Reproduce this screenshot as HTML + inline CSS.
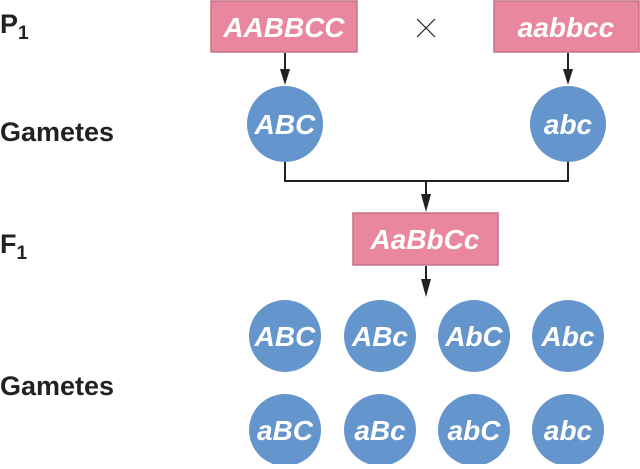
<!DOCTYPE html>
<html><head><style>
body{margin:0;width:640px;height:464px;background:#fff;overflow:hidden}
svg text{font-family:"Liberation Sans",sans-serif}
</style></head><body>
<svg width="640" height="464" viewBox="0 0 640 464">
<g font-size="27" fill="#222" font-weight="bold">
<text x="0" y="33">P<tspan font-size="19" dy="6">1</tspan></text>
<text x="0" y="141">Gametes</text>
<text x="0" y="253">F<tspan font-size="19" dy="6">1</tspan></text>
<text x="0" y="395">Gametes</text>
</g>
<g fill="#e8879e" stroke="#c07488" stroke-width="1.5">
<rect x="211" y="1" width="146" height="51"/>
<rect x="494" y="1" width="145" height="51"/>
<rect x="353" y="213" width="145" height="52"/>
</g>
<g stroke="#222" stroke-width="1.2"><line x1="417" y1="19" x2="435" y2="37"/><line x1="435" y1="19" x2="417" y2="37"/></g>
<g stroke="#222" stroke-width="2" fill="none">
<line x1="285" y1="53" x2="285" y2="72"/><line x1="568" y1="53" x2="568" y2="72"/>
<polyline points="285,162 285,181 568,181 568,162"/>
<line x1="426" y1="181" x2="426" y2="196"/>
<line x1="426" y1="266" x2="426" y2="281"/>
</g>
<g fill="#222">
<path d="M280,69 L290,69 L285,85 Z"/><path d="M563,69 L573,69 L568,85 Z"/>
<path d="M421,194 L431,194 L426,212 Z"/><path d="M421,279 L431,279 L426,297 Z"/>
</g>
<g fill="#6495cc">
<circle cx="285" cy="124" r="38"/><circle cx="568" cy="124" r="38"/>
<circle cx="285" cy="336" r="36"/><circle cx="380" cy="336" r="36"/><circle cx="474" cy="336" r="36"/><circle cx="568" cy="336" r="36"/>
<circle cx="285" cy="430" r="36"/><circle cx="380" cy="430" r="36"/><circle cx="474" cy="430" r="36"/><circle cx="568" cy="430" r="36"/>
</g>
<g fill="#fff" font-weight="bold" font-style="italic" font-size="28" text-anchor="middle">
<text x="284" y="37">AABBCC</text><text x="566" y="37">aabbcc</text><text x="425" y="249">AaBbCc</text>
<text x="285" y="134">ABC</text><text x="568" y="134">abc</text>
<text x="285" y="346">ABC</text><text x="380" y="346">ABc</text><text x="474" y="346">AbC</text><text x="568" y="346">Abc</text>
<text x="285" y="440">aBC</text><text x="380" y="440">aBc</text><text x="474" y="440">abC</text><text x="568" y="440">abc</text>
</g>
</svg>
</body></html>
